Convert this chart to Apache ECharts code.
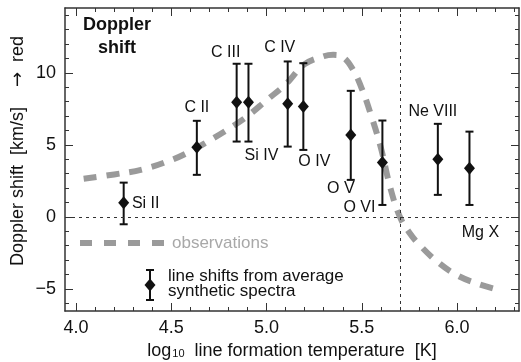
<!DOCTYPE html>
<html>
<head>
<meta charset="utf-8">
<script src="https://cdn.jsdelivr.net/npm/echarts@6/dist/echarts.min.js"></script>
<style>
html,body{margin:0;padding:0;background:#fff;}
#chart{width:521px;height:362px;}
</style>
</head>
<body>
<div id="chart"></div>
<script>
// ---- data ----
const ionNames = ['Si II','C II','C III','Si IV','C IV','O IV','O V','O VI','Ne VIII','Mg X'];
const logT     = [4.25, 4.634, 4.843, 4.905, 5.111, 5.193, 5.442, 5.608, 5.899, 6.065];
const shift    = [0.99, 4.84, 7.96, 7.96, 7.85, 7.66, 5.69, 3.77, 4.00, 3.38];
const errLow   = [-0.51, 2.92, 5.23, 5.23, 4.88, 4.65, 2.57, 0.83, 1.53, 0.83];
const errHigh  = [2.38, 6.67, 10.63, 10.63, 10.79, 10.67, 8.75, 6.69, 6.46, 5.92];

const obsT = [4.04, 4.2, 4.35, 4.5, 4.6, 4.7, 4.8, 4.9, 5.0, 5.1, 5.2, 5.3, 5.35, 5.4, 5.45, 5.5, 5.55, 5.6, 5.65, 5.7, 5.75, 5.8, 5.9, 6.0, 6.1, 6.2];
const obsV = [2.65, 2.95, 3.3, 3.95, 4.55, 5.3, 6.1, 7.0, 8.1, 9.2, 10.6, 11.15, 11.25, 11.1, 10.3, 8.9, 7.0, 4.8, 2.0, 0.0, -1.1, -1.9, -3.15, -4.05, -4.6, -5.0];

const xMajorTicks = [4.0, 4.5, 5.0, 5.5, 6.0];
const xMinorTicks = [4.0,4.1,4.2,4.3,4.4,4.5,4.6,4.7,4.8,4.9,5.0,5.1,5.2,5.3,5.4,5.5,5.6,5.7,5.8,5.9,6.0,6.1,6.2,6.3];
const yMajorTicks = [-5, 0, 5, 10];
const yMinorTicks = [-6,-5,-4,-3,-2,-1,0,1,2,3,4,5,6,7,8,9,10,11,12,13,14];
const X_MIN = 3.942, X_MAX = 6.325, Y_MIN = -6.53, Y_MAX = 14.5;
const transitionT = 5.7;

// ---- layout / style ----
const labelOffset = [[22,1],[0,-40],[-11,-50],[13,53],[-8,-56],[11,55],[-10,54],[-23,45],[-5,-48],[11,64]];
const SYM_W = 11, SYM_H = 13;
const FONT = 'Liberation Sans, Arial, Helvetica, sans-serif';
const INK = '#111';
const FRAME = '#333';
const GRAY = '#9a9a9a';

const chart = echarts.init(document.getElementById('chart'), null, {renderer:'canvas'});

function xAxisDef(pos, major, withLabels) {
  return {
    type:'value', position:pos, min:X_MIN, max:X_MAX,
    axisLine:{show:major, onZero:false, lineStyle:{color:FRAME, width:1.5}},
    axisTick:{show:true, inside:true, length: major?8:4, customValues: major?xMajorTicks:xMinorTicks,
              lineStyle:{color:FRAME, width:1}},
    axisLabel:{show:withLabels, customValues:xMajorTicks, formatter:v=>v.toFixed(1),
               fontSize:18, color:INK, fontFamily:FONT, margin:8},
    splitLine:{show:false}
  };
}
function yAxisDef(pos, major, withLabels) {
  return {
    type:'value', position:pos, min:Y_MIN, max:Y_MAX,
    axisLine:{show:major, onZero:false, lineStyle:{color:FRAME, width:1.5}},
    axisTick:{show:true, inside:true, length: major?8:4, customValues: major?yMajorTicks:yMinorTicks,
              lineStyle:{color:FRAME, width:1}},
    axisLabel:{show:withLabels, customValues:yMajorTicks,
               formatter:v=> v<0 ? '\u2212'+Math.abs(v) : String(v),
               fontSize:18, color:INK, fontFamily:FONT, margin:9},
    splitLine:{show:false}
  };
}

const xBottom = xAxisDef('bottom', true, true);
xBottom.name = '{a|log}{s|10}{a|  line formation temperature  [K]}';
xBottom.nameLocation = 'middle';
xBottom.nameGap = 27;
xBottom.nameTextStyle = {
  rich:{
    a:{fontSize:18, color:INK, fontFamily:FONT},
    s:{fontSize:11, color:INK, fontFamily:FONT, verticalAlign:'bottom', padding:[0,0,0,1]}
  }
};

const option = {
  animation:false,
  backgroundColor:'#fff',
  grid:{left:65, right:2, top:8, bottom:51, containLabel:false, outerBoundsMode:'none'},
  xAxis:[ xBottom, xAxisDef('bottom', false, false), xAxisDef('top', true, false), xAxisDef('top', false, false) ],
  yAxis:[ yAxisDef('left', true, true), yAxisDef('left', false, false), yAxisDef('right', true, false), yAxisDef('right', false, false) ],
  graphic:[
    {type:'text', x:18, y:151, rotation:Math.PI/2,
     style:{text:'{t|Doppler shift  [km/s]    }{r|\u2192}{t|  red}',
            rich:{
              t:{fontSize:18, fontFamily:FONT, fill:INK, color:INK},
              r:{fontSize:18, fontFamily:'DejaVu Sans, sans-serif', fill:INK, color:INK}
            },
            align:'center', verticalAlign:'middle'}},
    {type:'text', x:117, y:37,
     style:{text:'Doppler\nshift', fontSize:18, fontWeight:'bold', fontFamily:FONT, fill:INK,
            align:'center', verticalAlign:'middle', lineHeight:23}},
    // legend: observations
    {type:'line', shape:{x1:80, y1:243, x2:164, y2:243},
     style:{stroke:GRAY, lineWidth:6, lineDash:[12,12]}},
    {type:'text', x:172, y:243,
     style:{text:'observations', fontSize:17, fontFamily:FONT, fill:'#a8a8a8', align:'left', verticalAlign:'middle'}},
    // legend: line shifts
    {type:'line', shape:{x1:150, y1:270, x2:150, y2:300}, style:{stroke:INK, lineWidth:2}},
    {type:'line', shape:{x1:146, y1:270, x2:154, y2:270}, style:{stroke:INK, lineWidth:2}},
    {type:'line', shape:{x1:146, y1:300, x2:154, y2:300}, style:{stroke:INK, lineWidth:2}},
    {type:'polygon', shape:{points:[[150,278.5],[155.5,285],[150,291.5],[144.5,285]]}, style:{fill:INK}},
    {type:'text', x:168, y:284,
     style:{text:'line shifts from average\nsynthetic spectra', fontSize:17, fontFamily:FONT, fill:INK,
            align:'left', verticalAlign:'middle', lineHeight:15}}
  ],
  series:[
    {
      type:'line', name:'observations', xAxisIndex:0, yAxisIndex:0,
      data: obsT.map((t,i)=>[t, obsV[i]]),
      smooth:0.4, showSymbol:false, symbol:'none',
      lineStyle:{color:GRAY, width:6, type:[13,10]},
      z:1
    },
    {
      type:'custom', name:'error bars', xAxisIndex:0, yAxisIndex:0,
      data: logT.map((t,i)=>[t, errLow[i], errHigh[i]]),
      encode:{x:0, y:[1,2]},
      renderItem:function(params, api){
        const x = api.value(0);
        const top = api.coord([x, api.value(2)]);
        const bot = api.coord([x, api.value(1)]);
        const cw = 4;
        const st = {stroke:INK, lineWidth:2};
        return {type:'group', children:[
          {type:'line', shape:{x1:top[0], y1:top[1], x2:bot[0], y2:bot[1]}, style:st},
          {type:'line', shape:{x1:top[0]-cw, y1:top[1], x2:top[0]+cw, y2:top[1]}, style:st},
          {type:'line', shape:{x1:bot[0]-cw, y1:bot[1], x2:bot[0]+cw, y2:bot[1]}, style:st}
        ]};
      },
      z:3
    },
    {
      type:'scatter', name:'line shifts', xAxisIndex:0, yAxisIndex:0,
      symbol:'diamond', symbolSize:[SYM_W, SYM_H],
      itemStyle:{color:INK, opacity:1},
      data: logT.map((t,i)=>({
        value:[t, shift[i]],
        label:{show:true, formatter:ionNames[i],
               position:[SYM_W/2 + labelOffset[i][0], SYM_H/2 + labelOffset[i][1]],
               align:'center', verticalAlign:'middle',
               fontSize:16, fontFamily:FONT, color:INK, opacity:1, textBorderWidth:0}
      })),
      emphasis:{disabled:true},
      labelLayout:{hideOverlap:false},
      markLine:{
        silent:true, symbol:['none','none'],
        label:{show:false},
        lineStyle:{color:FRAME, width:1, type:[3,4]},
        data:[{yAxis:0},{xAxis:transitionT}]
      },
      z:4
    }
  ]
};
chart.setOption(option);
</script>
</body>
</html>
